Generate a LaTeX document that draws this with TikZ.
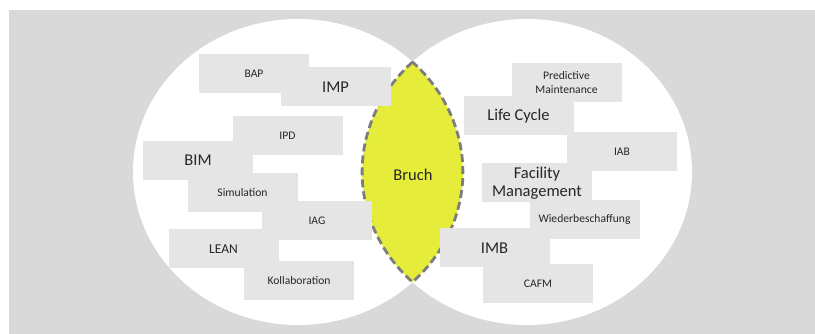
\documentclass[tikz,border=0pt]{standalone}
\usepackage{fontspec}
\setmainfont{Carlito}
\definecolor{bggray}{RGB}{217,217,217}
\definecolor{boxgray}{RGB}{229,229,229}
\definecolor{lensyellow}{RGB}{229,236,58}
\definecolor{dashgray}{RGB}{125,125,125}
\definecolor{txt}{RGB}{38,38,38}

\begin{document}
\begin{tikzpicture}[x=1pt,y=1pt,
    term/.style={fill=boxgray,text=txt,minimum width=110pt,minimum height=39pt,inner sep=0pt,align=center},
    small/.style={font=\fontsize{11.6}{14}\selectfont},
    mid/.style={font=\fontsize{13.5}{16}\selectfont},
    big/.style={font=\fontsize{16.5}{18}\selectfont}]
  \useasboundingbox (0,0) rectangle (815,334);
  \fill[bggray] (9,0) rectangle (815,324);

  % the two sets
  \fill[white] (298,162) ellipse (165 and 153);
  \fill[white] (527,162) ellipse (165 and 153);

  % overlap
  \path[fill=lensyellow,draw=dashgray,line width=2.8pt,dash pattern=on 8pt off 4pt]
    (412.5,272) arc[start angle=134,end angle=226,x radius=165,y radius=153]
    arc[start angle=-46,end angle=46,x radius=165,y radius=153] -- cycle;
  \node[big,text=txt] (bruch) at (413,159) {Bruch};

  % left set
  \node[term,small] (bap) at (254,260.5) {BAP};
  \node[term,big] (imp) at (335.5,247) {IMP};
  \node[term,small] (ipd) at (287.5,198.5) {IPD};
  \node[term,small] (sim) at (242.5,141.5) {Simulation};
  \node[term,big] (bim) at (198,173.5) {BIM};
  \node[term,small] (iag) at (317,113) {IAG};
  \node[term,mid] (lean) at (223.5,85) {LEAN};
  \node[term,small] (kolla) at (299,53) {Kollaboration};

  % right set
  \node[term,small] (pm) at (566.5,251.5) {Predictive\\Maintenance};
  \node[term,big] (lc) at (518.5,218) {Life Cycle};
  \node[term,small] (iab) at (622,182.5) {IAB};
  \node[term,big] (fm) at (537,151) {Facility\\Management};
  \node[term,small] (wb) at (584.5,114.5) {Wiederbeschaffung};
  \node[term,big] (imb) at (494.5,86) {IMB};
  \node[term,small] (cafm) at (538,50) {CAFM};
\end{tikzpicture}
\end{document}
